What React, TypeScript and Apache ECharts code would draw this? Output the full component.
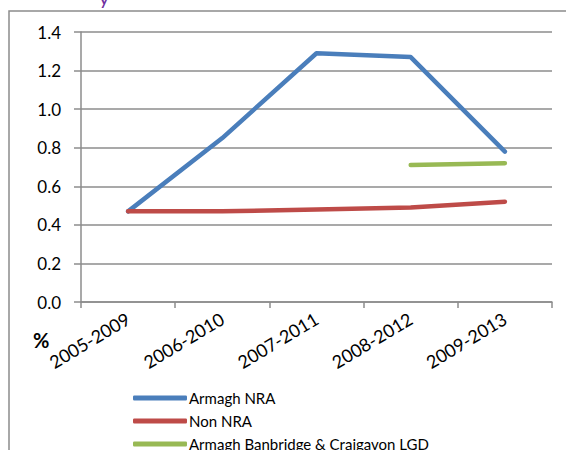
import React, { useEffect, useRef } from "react";
import * as echarts from "echarts";

const categories = ["2005-2009", "2006-2010", "2007-2011", "2008-2012", "2009-2013"];
const armaghNRA = [0.47, 0.85, 1.29, 1.27, 0.78];
const nonNRA = [0.47, 0.47, 0.48, 0.49, 0.52];
const abcLGD = [null, null, null, 0.71, 0.72];
const seriesNames = ["Armagh NRA", "Non NRA", "Armagh Banbridge & Craigavon LGD"];
const yAxisTitle = "%";

const FONT = "Lato, 'Liberation Sans', sans-serif";

export default function App() {
  const ref = useRef<HTMLDivElement>(null);
  useEffect(() => {
    if (!ref.current) return;
    const chart = echarts.init(ref.current, undefined, { renderer: "svg" });
    const lineStyle = (color: string) => ({ color, width: 4.5, cap: "round" as const, join: "round" as const });
    const legendTops = [389, 412, 435];
    chart.setOption({
      animation: false,
      backgroundColor: "#ffffff",
      textStyle: { fontFamily: FONT },
      grid: { left: 81, top: 32, right: 14, bottom: 148, containLabel: false },
      xAxis: {
        type: "category",
        data: categories,
        boundaryGap: true,
        axisLine: { show: true, lineStyle: { color: "#8c8c8c", width: 1.5 } },
        axisTick: { show: true, interval: 0, length: 6, lineStyle: { color: "#8c8c8c", width: 1.5 } },
        axisLabel: { interval: 0, rotate: 31, margin: 15, fontSize: 18, color: "#000", fontFamily: FONT },
        splitLine: { show: false },
      },
      yAxis: {
        type: "value",
        min: 0,
        max: 1.4,
        interval: 0.2,
        axisLine: { show: true, lineStyle: { color: "#8c8c8c", width: 1.5 } },
        axisTick: { show: true, length: 7, lineStyle: { color: "#8c8c8c", width: 1.5 } },
        axisLabel: {
          margin: 20,
          fontSize: 17,
          color: "#000",
          fontFamily: FONT,
          formatter: (v: number) => v.toFixed(1),
        },
        splitLine: { show: true, lineStyle: { color: "#8c8c8c", width: 1.5 } },
      },
      legend: seriesNames.map((name, i) => ({
        orient: "vertical",
        left: 133,
        top: legendTops[i],
        padding: 0,
        itemWidth: 54,
        itemHeight: 5,
        icon: "roundRect",
        data: [name],
        textStyle: { fontSize: 15, lineHeight: 18, color: "#000", fontFamily: FONT, padding: [0, 0, 0, -3] },
      })),
      series: [
        {
          name: seriesNames[0],
          type: "line",
          data: armaghNRA,
          symbol: "none",
          color: "#4a7ebb",
          lineStyle: lineStyle("#4a7ebb"),
          z: 3,
        },
        {
          name: seriesNames[1],
          type: "line",
          data: nonNRA,
          symbol: "none",
          color: "#be4b48",
          lineStyle: lineStyle("#be4b48"),
          z: 4,
        },
        {
          name: seriesNames[2],
          type: "line",
          data: abcLGD,
          symbol: "none",
          connectNulls: false,
          color: "#98b954",
          lineStyle: lineStyle("#98b954"),
          z: 5,
        },
      ],
      graphic: [
        {
          type: "rect",
          shape: { x: 9, y: 11, width: 700, height: 600 },
          style: { fill: "none", stroke: "#8c8c8c", lineWidth: 1.5 },
          silent: true,
          z: -1,
        },
        {
          type: "text",
          x: 99,
          y: -13,
          style: { text: "y", fill: "#7030a0", font: "20px " + FONT },
          silent: true,
        },
        {
          type: "text",
          x: 33,
          y: 330,
          style: { text: yAxisTitle, fill: "#000", font: "bold 20px " + FONT },
          silent: true,
        },
      ],
    });
    return () => chart.dispose();
  }, []);
  return (
    <div
      ref={ref}
      style={{ position: "fixed", left: 0, top: 0, width: 566, height: 450 }}
    />
  );
}
